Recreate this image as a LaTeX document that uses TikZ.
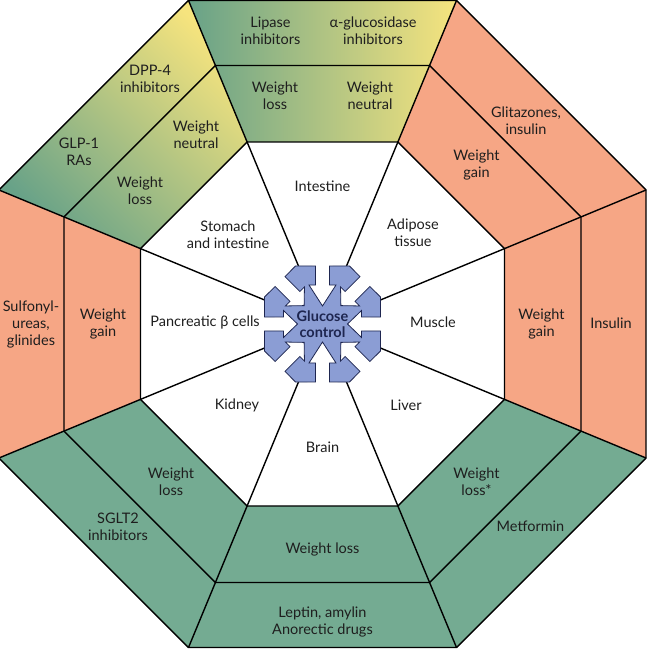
\documentclass[tikz,border=0pt]{standalone}
\usepackage{fontspec}
\setmainfont{Lato}
\usetikzlibrary{calc}

\definecolor{ringgreen}{RGB}{116,171,146}
\definecolor{ringdkgreen}{RGB}{104,162,136}
\definecolor{ringyellow}{RGB}{246,228,126}
\definecolor{ringsalmon}{RGB}{246,166,133}
\definecolor{starblue}{RGB}{139,157,212}
\definecolor{starline}{RGB}{30,38,80}
\definecolor{labtext}{RGB}{30,30,30}

\begin{document}
\begin{tikzpicture}[x=1pt,y=1pt,
  ring/.style={line width=1.4pt,line join=miter},
  lab/.style={align=center,text=labtext,font=\fontsize{14.5}{17}\selectfont,inner sep=0pt}]
\useasboundingbox (-322.5,-326) rectangle (324.5,324);

% corners of the three octagons
\coordinate[] (C) at (0,0);
\foreach \i in {0,...,7} {
  \coordinate[] (I\i) at ({22.5+45*\i}:197);
  \coordinate[] (M\i) at ({22.5+45*\i}:279.8);
  \coordinate[] (O\i) at ({22.5+45*\i}:350.2);
}

% coloured sectors
\fill [fill=ringsalmon] (I7)--(I0)--(O0)--(O7)--cycle;
\fill [fill=ringsalmon] (I0)--(I1)--(O1)--(O0)--cycle;
\fill [fill=ringsalmon] (I3)--(I4)--(O4)--(O3)--cycle;
\fill [fill=ringgreen] (I4)--(I5)--(O5)--(O4)--cycle;
\fill [fill=ringgreen] (I5)--(I6)--(O6)--(O5)--cycle;
\fill [fill=ringgreen] (I6)--(I7)--(O7)--(O6)--cycle;
\shade [left color=ringdkgreen,right color=ringyellow] (I1)--(I2)--(O2)--(O1)--cycle;
\shade [bottom color=ringdkgreen,top color=ringyellow,shading angle=-45] (I2)--(I3)--(O3)--(O2)--cycle;

\draw [ring] (I0)--(I1)--(I2)--(I3)--(I4)--(I5)--(I6)--(I7)--cycle;
\draw [ring] (M0)--(M1)--(M2)--(M3)--(M4)--(M5)--(M6)--(M7)--cycle;
\draw [ring] (O0)--(O1)--(O2)--(O3)--(O4)--(O5)--(O6)--(O7)--cycle;
\foreach \i in {0,...,7}
  \draw [ring] (C) -- (O\i);

% glucose control star, white arrows cut in from every face
\fill [fill=starblue,draw=starline,line width=0.8pt,line join=miter]
  (-6.88:58.42)
  \foreach \t/\tip/\a/\r/\v in {0/25/6.88/58.42/24.96, 45/26/6.65/60.41/20.04,
      90/18/6.88/58.42/24.96, 135/26/6.65/60.41/20.04, 180/25/6.88/58.42/24.96,
      225/26/6.65/60.41/20.04, 270/18/6.88/58.42/24.96, 315/26/6.65/60.41/20.04} {
    -- (\t-\a:\r) -- (\t-10.18:39.62) -- (\t-19.09:41.27) -- (\t:\tip)
    -- (\t+19.09:41.27) -- (\t+10.18:39.62) -- (\t+\a:\r) -- (\t+\v:63.98)
  } -- cycle;
\node[lab,text=starline,font=\fontsize{14.5}{16.5}\selectfont\bfseries] (glucose) at (C) {Glucose\\control};

% inner ring
\node[lab] (intestine) at (0,138) {Intestine};
\node[lab] (adipose) at (90.5,91) {Adipose\\tissue};
\node[lab] (muscle) at (110.5,2) {Muscle};
\node[lab] (liver) at (83.5,-81) {Liver};
\node[lab] (brain) at (0,-123) {Brain};
\node[lab] (kidney) at (-85.5,-81) {Kidney};
\node[lab] (pancreas) at (-117.5,2) {Pancreatic β cells};
\node[lab] (stomach) at (-94.5,89.5) {Stomach\\and intestine};

% middle ring
\node[lab] (wlossT) at (-47.5,228) {Weight\\loss};
\node[lab] (wneutT) at (47.5,228) {Weight\\neutral};
\node[lab] (wneutTL) at (-126.5,189) {Weight\\neutral};
\node[lab] (wlossTL) at (-182.5,133) {Weight\\loss};
\node[lab] (wgainTR) at (154,159) {Weight\\gain};
\node[lab] (wgainR) at (219,0) {Weight\\gain};
\node[lab] (wlossBR) at (154,-158) {Weight\\loss*};
\node[lab] (wlossB) at (0,-225) {Weight loss};
\node[lab] (wlossBL) at (-151.5,-158) {Weight\\loss};
\node[lab] (wgainL) at (-219.5,0) {Weight\\gain};

% outer ring
\node[lab] (lipase) at (-52,293) {Lipase\\inhibitors};
\node[lab] (glucosidase) at (50.5,293) {α-glucosidase\\inhibitors};
\node[lab] (dpp) at (-172.5,245) {DPP-4\\inhibitors};
\node[lab] (glp) at (-243.5,172) {GLP-1\\RAs};
\node[lab] (glitazones) at (203.5,203) {Glitazones,\\insulin};
\node[lab] (insulin) at (288.5,1) {Insulin};
\node[lab] (metformin) at (208,-202) {Metformin};
\node[lab] (leptin) at (0,-298) {Leptin, amylin\\Anorectic drugs};
\node[lab] (sglt) at (-204.5,-203) {SGLT2\\inhibitors};
\node[lab] (sulfonyl) at (-291.5,0) {Sulfonyl-\\ureas,\\glinides};
\end{tikzpicture}
\end{document}
